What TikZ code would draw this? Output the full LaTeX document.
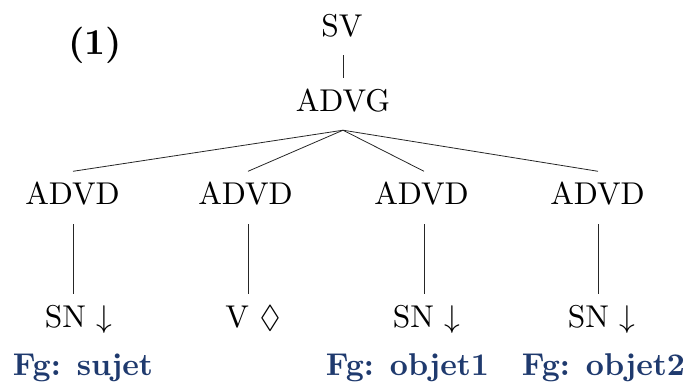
\documentclass[tikz,border=0pt]{standalone}
\usepackage{amssymb}
\usepackage{graphicx}
\definecolor{fgblue}{RGB}{31,58,110}
\newcommand{\bigtxt}[1]{\scalebox{3.15}{\fontsize{10}{12}\selectfont #1}}
\newcommand{\bigbf}[1]{\scalebox{3.15}{\fontsize{10}{12}\selectfont\bfseries #1}}
\begin{document}
\begin{tikzpicture}[x=1pt,y=-1pt,
  tn/.style={inner sep=0pt,anchor=base,text height=21.5pt,text depth=0pt},
  fg/.style={inner sep=0pt,anchor=base,text=fgblue},
  edge/.style={line width=0.8pt,black!85}]
\useasboundingbox (0,0) rectangle (689,385);
\node[inner sep=0pt,anchor=base] (ex) at (95,55) {\scalebox{3.65}{\fontsize{10}{12}\selectfont\bfseries (1)}};
\node[tn] (sv) at (342,37) {\bigtxt{SV}};
\node[tn] (advg) at (343,112) {\bigtxt{ADVG}};
\node[tn] (d1) at (72.5,205) {\bigtxt{ADVD}};
\node[tn] (d2) at (245.5,205) {\bigtxt{ADVD}};
\node[tn] (d3) at (421.5,205) {\bigtxt{ADVD}};
\node[tn] (d4) at (597.5,205) {\bigtxt{ADVD}};
\node[tn] (l1) at (78.5,327) {\bigtxt{SN $\downarrow$}};
\node[tn] (l2) at (253,327) {\bigtxt{V $\lozenge$}};
\node[tn] (l3) at (426.5,327) {\bigtxt{SN $\downarrow$}};
\node[tn] (l4) at (601.5,327) {\bigtxt{SN $\downarrow$}};
\node[fg] (f1) at (83,375) {\bigbf{Fg: sujet}};
\node[fg] (f3) at (407.5,375) {\bigbf{Fg: objet1}};
\node[fg] (f4) at (603.5,375) {\bigbf{Fg: objet2}};
\draw[edge] ([xshift=1pt,yshift=-18pt]sv.south) -- ([yshift=12pt]advg.north);
\foreach \n/\dx in {d1/0.5,d2/2.5,d3/2.5,d4/0.5}
  \draw[edge] ([yshift=-18pt]advg.south) -- ([xshift=\dx pt,yshift=12pt]\n.north);
\draw[edge] ([xshift=0.5pt,yshift=-19pt]d1.south) -- ([xshift=-5.5pt,yshift=11pt]l1.north);
\draw[edge] ([xshift=2.5pt,yshift=-19pt]d2.south) -- ([xshift=-5pt,yshift=11pt]l2.north);
\draw[edge] ([xshift=2.5pt,yshift=-19pt]d3.south) -- ([xshift=-2.5pt,yshift=11pt]l3.north);
\draw[edge] ([xshift=0.5pt,yshift=-19pt]d4.south) -- ([xshift=-3.5pt,yshift=11pt]l4.north);
\end{tikzpicture}
\end{document}
